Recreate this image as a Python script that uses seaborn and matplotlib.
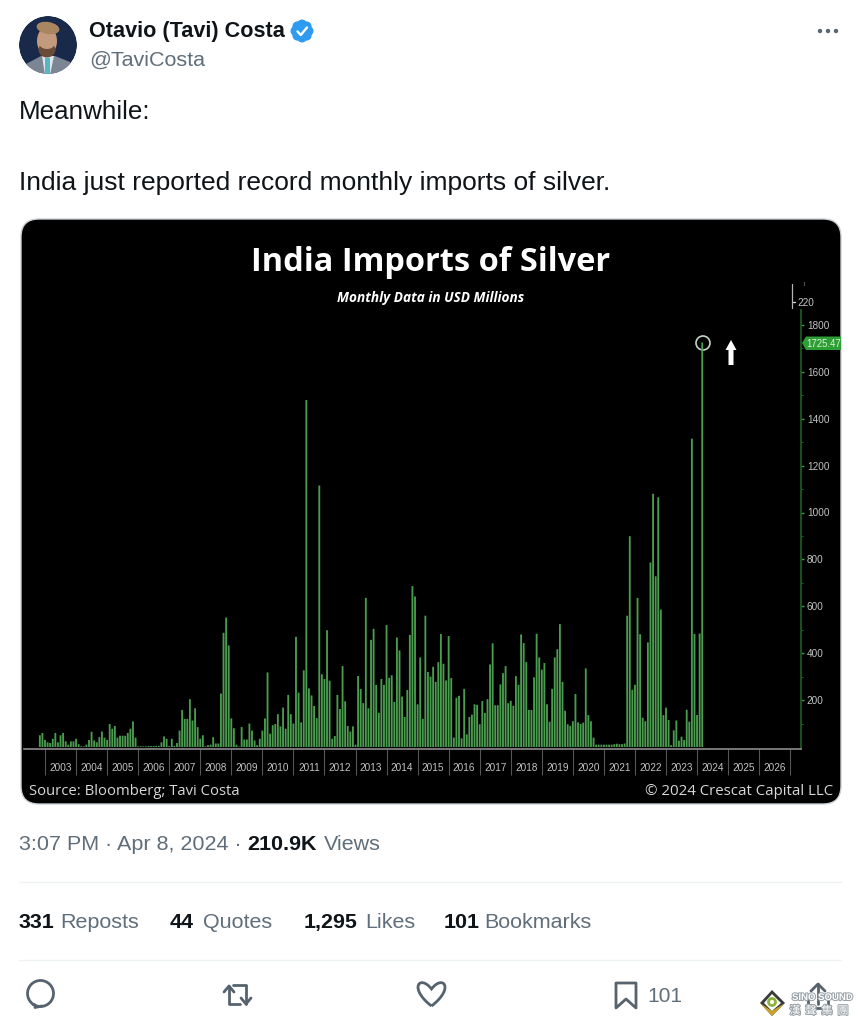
#!/usr/bin/env python
import matplotlib
matplotlib.use("Agg")
import matplotlib.pyplot as plt
import matplotlib.patheffects as pe
from matplotlib.patches import Circle, Ellipse, FancyBboxPatch, Polygon, PathPatch
from matplotlib.path import Path
import numpy as np
import pandas as pd
import seaborn as sns

# monthly values, USD millions
imports_2002 = [50, 60]
imports_2003 = [30, 20, 17, 35, 60, 20, 50, 60, 24, 10, 24, 24]
imports_2004 = [35, 12, 3, 3, 10, 30, 65, 28, 20, 42, 66, 40]
imports_2005 = [30, 98, 78, 90, 40, 48, 48, 48, 60, 78, 109, 40]
imports_2006 = [3, 3, 3, 3, 4, 4, 4, 5, 5, 20, 45, 35]
imports_2007 = [4, 35, 5, 17, 70, 158, 120, 120, 204, 113, 165, 85]
imports_2008 = [35, 50, 3, 8, 10, 42, 15, 15, 228, 487, 552, 433]
imports_2009 = [122, 80, 10, 2, 85, 32, 32, 100, 70, 28, 8, 35]
imports_2010 = [70, 122, 318, 57, 93, 98, 140, 88, 168, 78, 222, 140]
imports_2011 = [100, 470, 232, 105, 327, 1480, 250, 220, 175, 123, 1115, 310]
imports_2012 = [290, 498, 283, 35, 47, 222, 162, 345, 195, 90, 66, 88]
imports_2013 = [10, 303, 247, 187, 636, 165, 457, 504, 265, 146, 290, 265]
imports_2014 = [520, 295, 306, 192, 467, 412, 215, 128, 243, 478, 686, 642]
imports_2015 = [182, 382, 120, 560, 320, 300, 342, 278, 362, 482, 355, 284]
imports_2016 = [473, 294, 40, 210, 218, 37, 248, 54, 128, 138, 182, 180]
imports_2017 = [97, 196, 145, 204, 352, 442, 178, 178, 267, 315, 345, 187]
imports_2018 = [197, 176, 302, 265, 480, 443, 362, 158, 158, 297, 483, 382]
imports_2019 = [330, 358, 182, 108, 248, 382, 417, 524, 278, 155, 97, 90]
imports_2020 = [110, 226, 105, 98, 104, 335, 136, 110, 40, 10, 10, 10]
imports_2021 = [10, 10, 10, 10, 12, 14, 12, 12, 15, 560, 899, 244]
imports_2022 = [265, 636, 481, 125, 110, 446, 787, 1080, 728, 1065, 586, 136]
imports_2023 = [168, 115, 8, 71, 113, 27, 44, 30, 159, 108, 1315, 482]
imports_2024 = [136, 484, 1725]

years = list(range(2003, 2027))
y_ticks = [200, 400, 600, 800, 1000, 1200, 1400, 1600, 1800]

values = (imports_2002 + imports_2003 + imports_2004 + imports_2005 + imports_2006
          + imports_2007 + imports_2008 + imports_2009 + imports_2010 + imports_2011
          + imports_2012 + imports_2013 + imports_2014 + imports_2015 + imports_2016
          + imports_2017 + imports_2018 + imports_2019 + imports_2020 + imports_2021
          + imports_2022 + imports_2023 + imports_2024)
df = pd.DataFrame({"month": np.arange(len(values)) - 2, "usd": values})

sns.set_theme(style="white")
UI = ["Liberation Sans", "DejaVu Sans"]
CHART = ["Open Sans", "DejaVu Sans"]
plt.rcParams["font.family"] = UI

W, H = 859, 1024
fig = plt.figure(figsize=(W / 100, H / 100), dpi=100, facecolor="white")

# whole-figure axes in pixel coordinates for the tweet around the chart
bg = fig.add_axes([0, 0, 1, 1], zorder=0)
bg.set_xlim(0, W)
bg.set_ylim(H, 0)
bg.axis("off")

DARK = "#0f1419"
GRAY = "#5f6e7a"


def put(x, y, s, px, color=DARK, weight="normal", family=UI, ha="left", **kw):
    return bg.text(x, y, s, fontsize=px * 0.72, color=color, fontweight=weight,
                   family=family, ha=ha, va="baseline", **kw)


# ----- header -----
clip = Circle((48, 45), 29, transform=bg.transData)
avatar = [
    Circle((48, 45), 29, fc="#18294a", ec="none"),
    Polygon([(22, 75), (26, 64), (41, 56), (55, 56), (70, 62), (76, 75)], fc="#7c8594", ec="none"),
    Polygon([(42, 56), (54, 56), (50, 75), (45, 75)], fc="#dfe6ea", ec="none"),
    Polygon([(45, 58), (50, 58), (50, 75), (45, 75)], fc="#58b5c4", ec="none"),
    Ellipse((47, 41), 20, 28, fc="#c49a7e", ec="none"),
    Ellipse((47, 50), 17, 15, fc="#6a4b38", ec="none"),
    Ellipse((47, 44), 15, 10, fc="#c49a7e", ec="none"),
    Ellipse((48, 28), 23, 12, angle=10, fc="#a98560", ec="none"),
]
for p in avatar:
    bg.add_patch(p)
    p.set_clip_path(clip)

put(89, 37, "Otavio (Tavi) Costa", 21.7, weight="bold")
put(89, 66, "@TaviCosta", 21.5, color=GRAY)

# verified badge
for a in np.arange(0, 2 * np.pi, np.pi / 4):
    bg.add_patch(Circle((302 + 6.5 * np.cos(a), 31 + 6.5 * np.sin(a)), 5, fc="#2f9bf0", ec="none"))
bg.add_patch(Circle((302, 31), 8, fc="#2f9bf0", ec="none"))
bg.plot([297.5, 300.8, 307], [31.5, 35, 27.5], color="white", lw=1.7, solid_capstyle="round")

for cx in [820, 828, 836]:
    bg.add_patch(Circle((cx, 31), 2.2, fc="#5a6670", ec="none"))

put(19, 119, "Meanwhile:", 26)
put(19, 190, "India just reported record monthly imports of silver.", 26.4)

# ----- chart panel -----
bg.add_patch(FancyBboxPatch((21 + 16, 219 + 16), 820 - 32, 585 - 32, boxstyle="round,pad=16,rounding_size=18",
                            fc="black", ec="#c9ced3", lw=1.0))

put(431, 271, "India Imports of Silver", 32.5, color="white", weight="bold", family=CHART, ha="center")
put(431, 302, "Monthly Data in USD Millions", 13.6, color="white", weight="bold", family=CHART, ha="center",
    style="italic")
put(29, 795, "Source: Bloomberg; Tavi Costa", 14.9, color="#d8d8d8", family=CHART)
put(833, 795, "\u00a9 2024 Crescat Capital LLC", 15, color="#d8d8d8", family=CHART, ha="right")

# chart axes placed so that months and USD fall on the reference's pixels
PX_LEFT, PX_RIGHT, PX_TOP, PX_BOTTOM = 24, 801, 310, 749
ax = fig.add_axes([PX_LEFT / W, 1 - PX_BOTTOM / H, (PX_RIGHT - PX_LEFT) / W, (PX_BOTTOM - PX_TOP) / H], zorder=1)
ax.patch.set_alpha(0)
sns.barplot(data=df, x="month", y="usd", native_scale=True, color="#4a9c4e", saturation=1,
            width=0.72, linewidth=0, ax=ax)
# no pixel snapping, so all the thin bars come out the same width
for bar in ax.patches:
    bar.set_snap(False)

month_px = 2.5875
usd_px = 46.9 / 200
ax.set_xlim((PX_LEFT - 45) / month_px, (PX_RIGHT - 45) / month_px)
ax.set_ylim(-(PX_BOTTOM - 747) / usd_px, (747 - PX_TOP) / usd_px)
ax.set_xlabel("")
ax.set_ylabel("")

for side in ["top", "left"]:
    ax.spines[side].set_visible(False)
ax.spines["bottom"].set_color("#8c8c8c")
ax.spines["bottom"].set_linewidth(1.2)
ax.spines["right"].set_color("#1f5f24")
ax.spines["right"].set_linewidth(1.2)

ax.set_xticks([12 * (y - 2003) for y in years] + [12 * (years[-1] + 1 - 2003)])
ax.set_xticks([12 * (y - 2003) + 6 for y in years], minor=True)
ax.set_xticklabels([])
ax.set_xticklabels([str(y) for y in years], minor=True)
ax.tick_params(axis="x", which="major", length=19, width=0.8, color="#555555", bottom=True)
ax.tick_params(axis="x", which="minor", length=0, pad=10, labelsize=7.2, labelcolor="#c4c4c4", bottom=True)

ax.yaxis.tick_right()
ax.set_yticks(y_ticks)
ax.set_yticks([v - 100 for v in y_ticks], minor=True)
ax.tick_params(axis="y", which="major", length=2.2, width=1, color="#3e9a44", right=True, pad=2,
               labelsize=7.2, labelcolor="#c4c4c4")
ax.tick_params(axis="y", which="minor", length=1.2, width=0.7, color="#1f5f24", right=True)

# small upper pane, badge and annotations
bg.plot([792, 792], [284, 308], color="#b5b5b5", lw=0.9)
bg.plot([793, 795], [302, 302], color="#d0d0d0", lw=1)
bg.plot([804, 804], [282, 285], color="#555555", lw=0.8)
put(797, 306, "220", 10, color="#c4c4c4")
bg.add_patch(Polygon([(802, 343), (806, 336.5), (841, 336.5), (841, 350), (806, 350)], fc="#2d9e35", ec="none"))
put(806, 347, "1725.47", 9.6, color="#d6f2cf")
bg.add_patch(Circle((703, 343), 7, fc="none", ec="#c4d4c4", lw=1.2))
bg.add_patch(Polygon([(731, 340), (736.5, 350), (733.5, 350), (733.5, 365), (728.5, 365), (728.5, 350), (725.5, 350)],
                     fc="white", ec="none"))

# ----- footer -----
put(19, 850, "3:07 PM \u00b7 Apr 8, 2024 \u00b7", 21.5, color=GRAY)
put(247, 850, "210.9K", 21.5, weight="bold")
put(324, 850, "Views", 21.5, color=GRAY)

bg.plot([19, 841], [882, 882], color="#eff2f3", lw=1)
bg.plot([19, 841], [960, 960], color="#eff2f3", lw=1)

stat_parts = [(19, "331", True), (60, "Reposts", False), (170, "44", True), (203, "Quotes", False),
              (304, "1,295", True), (365, "Likes", False), (444, "101", True), (484, "Bookmarks", False)]
for x, s, strong in stat_parts:
    put(x, 928, s, 21.5, color=DARK if strong else GRAY, weight="bold" if strong else "normal")

ICON = "#56636e"
# reply
bg.add_patch(Circle((40.5, 993.5), 13, fc="none", ec=ICON, lw=2))
bg.plot([33, 35, 35, 42], [1004.5, 1005, 1007.5, 1006], color=ICON, lw=2)
# retweet
bg.plot([224, 229, 234], [992, 986, 992], color=ICON, lw=2)
bg.plot([229, 229, 240], [986, 1004, 1004], color=ICON, lw=2)
bg.plot([233, 246, 246], [985, 985, 1004], color=ICON, lw=2)
bg.plot([241, 246, 251], [998, 1004, 998], color=ICON, lw=2)
# heart
bg.add_patch(PathPatch(Path([(431.5, 1006), (408, 988), (420, 974), (431.5, 989), (443, 974), (455, 988), (431.5, 1006)],
                            [Path.MOVETO] + [Path.CURVE4] * 6), fc="none", ec=ICON, lw=2))
# bookmark
bg.add_patch(Polygon([(616, 983), (636, 983), (636, 1008), (626, 999), (616, 1008)], fc="none", ec=ICON, lw=2,
                     joinstyle="round"))
put(647, 1002, "101", 21, color=GRAY)
# share, mostly under the watermark
bg.plot([818, 818], [984, 1004], color=ICON, lw=2)
bg.plot([811, 818, 825], [991, 984, 991], color=ICON, lw=2)
bg.plot([808, 808, 828, 828], [1000, 1008, 1008, 1000], color=ICON, lw=2)

# watermark
bg.add_patch(Polygon([(772, 990), (785, 1003), (772, 1016), (760, 1003)], fc="#3a3a3a", ec="none"))
bg.add_patch(Polygon([(760, 1003), (772, 1016), (785, 1003), (772, 1011)], fc="#c9a227", ec="none"))
bg.add_patch(Polygon([(772, 994), (781, 1003), (772, 1011), (764, 1003)], fc="white", ec="none"))
bg.add_patch(Circle((772, 1002), 3.5, fc="white", ec="#8bb53a", lw=2))
glow = [pe.withStroke(linewidth=1.5, foreground="#9aa3aa")]
put(792, 1000, "SINO SOUND", 9.6, color="white", weight="bold", path_effects=glow)
for x, ch in zip([795, 811, 827, 843], "\u6f22\u8072\u96c6\u5718"):
    put(x, 1014, ch, 11, color="white", family=["Noto Sans CJK TC", "DejaVu Sans"], ha="center", path_effects=glow)

fig.savefig("out.png", dpi=100, facecolor="white")
